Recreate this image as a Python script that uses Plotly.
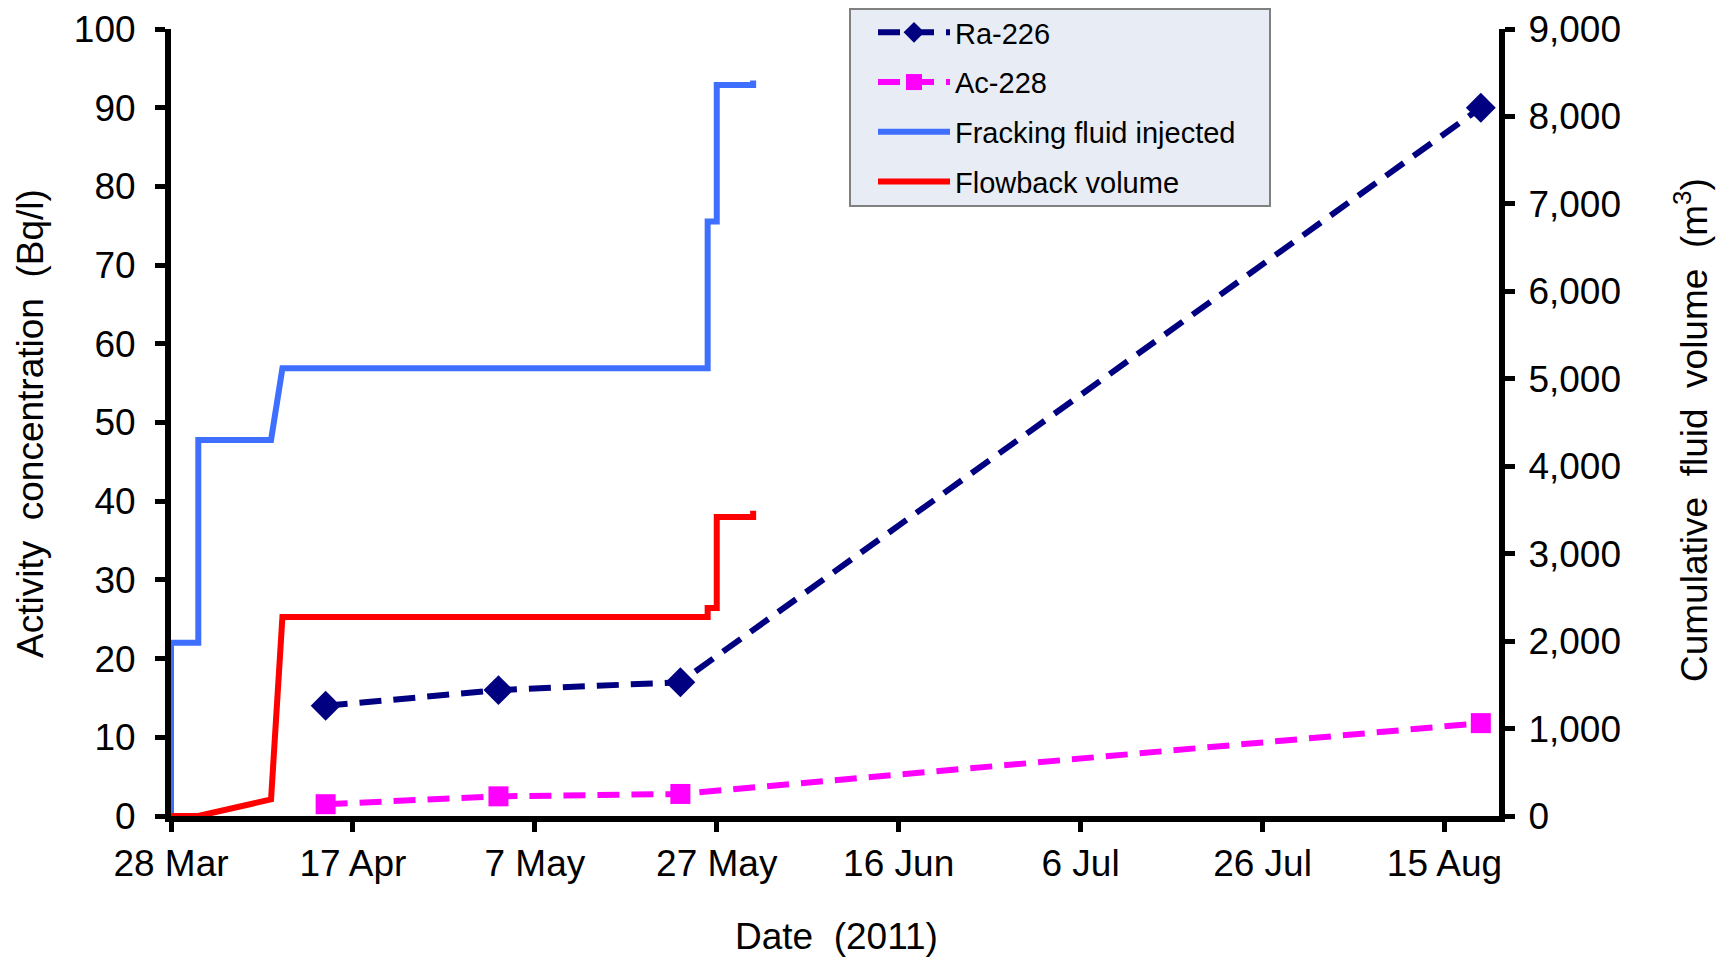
import plotly.graph_objects as go

# Radionuclide activity in flowback samples (Bq/l)
sample_dates = ["2011-04-14", "2011-05-03", "2011-05-23", "2011-08-19"]
ra226 = [14, 16, 17, 90]
ac228 = [1.5, 2.5, 2.8, 11.8]

# Cumulative fracking fluid injected (m3)
inj_dates = ["2011-03-28 00:00", "2011-03-28 00:00", "2011-03-31 00:00", "2011-03-31 00:00",
             "2011-04-08 00:00", "2011-04-09 06:00", "2011-05-26 00:00", "2011-05-26 00:00",
             "2011-05-27 00:00", "2011-05-27 00:00", "2011-05-31 00:00", "2011-05-31 00:00"]
inj_volume = [0, 1980, 1980, 4300, 4300, 5120, 5120, 6800, 6800, 8360, 8360, 8410]

# Cumulative flowback volume (m3)
fb_dates = ["2011-03-28 00:00", "2011-03-31 00:00", "2011-04-08 00:00", "2011-04-09 06:00",
            "2011-05-26 00:00", "2011-05-26 00:00", "2011-05-27 00:00", "2011-05-27 00:00",
            "2011-05-31 00:00", "2011-05-31 00:00"]
fb_volume = [0, 0, 190, 2275, 2275, 2380, 2380, 3420, 3420, 3490]

tick_dates = ["2011-03-28", "2011-04-17", "2011-05-07", "2011-05-27",
              "2011-06-16", "2011-07-06", "2011-07-26", "2011-08-15"]
tick_labels = ["28 Mar", "17 Apr", "7 May", "27 May", "16 Jun", "6 Jul", "26 Jul", "15 Aug"]

FONT = "Arial, Liberation Sans, sans-serif"
NB = "\u00a0"

# plot area in pixels (figure is 1717 x 957)
PL, PR, PT, PB = 171, 1499, 29, 816
W, H = 1717, 957


def px_x(px):
    return (px - PL) / (PR - PL)


def px_y(py):
    return (PB - py) / (PB - PT)


fig = go.Figure()

fig.add_trace(go.Scatter(
    x=sample_dates, y=ra226, name="Ra-226", mode="lines+markers", legendgroup="ra",
    line=dict(color="#000080", width=6, dash="22px,12px"),
    marker=dict(symbol="diamond", size=23, color="#000080"),
))
fig.add_trace(go.Scatter(
    x=sample_dates, y=ac228, name="Ac-228", mode="lines+markers", legendgroup="ac",
    line=dict(color="#FF00FF", width=6, dash="22px,12px"),
    marker=dict(symbol="square", size=20, color="#FF00FF"),
))
fig.add_trace(go.Scatter(
    x=inj_dates, y=inj_volume, name="Fracking fluid injected", mode="lines",
    legendgroup="inj", line=dict(color="#3F6FFF", width=6), yaxis="y2",
))
fig.add_trace(go.Scatter(
    x=fb_dates, y=fb_volume, name="Flowback volume", mode="lines",
    legendgroup="fb", line=dict(color="#FF0000", width=6), yaxis="y2",
))

axis_common = dict(
    showline=True, linecolor="black", linewidth=6,
    ticks="outside", ticklen=10, tickwidth=5, tickcolor="black",
    showgrid=False, zeroline=False,
    tickfont=dict(family=FONT, size=37, color="black"),
)

fig.update_layout(
    width=W, height=H,
    margin=dict(l=PL, r=W - PR, t=PT, b=H - PB, autoexpand=False),
    paper_bgcolor="white", plot_bgcolor="white",
    font=dict(family=FONT, color="black"),
    xaxis=dict(
        **axis_common,
        type="date",
        range=["2011-03-28", "2011-08-21"],
        tickvals=tick_dates, ticktext=tick_labels,
    ),
    yaxis=dict(
        **axis_common,
        range=[0, 100], tickvals=list(range(0, 101, 10)),
        ticklabelstandoff=12,
    ),
    yaxis2=dict(
        **axis_common,
        overlaying="y", side="right",
        range=[0, 9000], tickvals=list(range(0, 9001, 1000)),
        tickformat=",", ticklabelstandoff=6,
    ),
    legend=dict(
        x=px_x(873), y=px_y(7), xanchor="left", yanchor="top",
        bgcolor="rgba(0,0,0,0)", borderwidth=0,
        font=dict(family=FONT, size=29),
        tracegroupgap=9, itemwidth=72,
    ),
    showlegend=True,
)

# legend frame
fig.add_shape(
    type="rect", xref="paper", yref="paper", layer="below",
    x0=px_x(850), x1=px_x(1270), y0=px_y(206), y1=px_y(9),
    fillcolor="#E8ECF4", line=dict(color="#808080", width=2),
)

# axis titles
fig.add_annotation(
    text=f"Activity{NB}{NB}concentration{NB}{NB}(Bq/l)",
    xref="paper", yref="paper", x=px_x(31), y=px_y(424),
    xanchor="center", yanchor="middle",
    textangle=-90, showarrow=False,
    font=dict(family=FONT, size=37, color="black"),
)
fig.add_annotation(
    text=f"Cumulative{NB}{NB}fluid{NB}{NB}volume{NB}{NB}(m<sup>3</sup>)",
    xref="paper", yref="paper", x=px_x(1692), y=px_y(430),
    xanchor="center", yanchor="middle",
    textangle=-90, showarrow=False,
    font=dict(family=FONT, size=37, color="black"),
)
fig.add_annotation(
    text=f"Date{NB}{NB}(2011)",
    xref="paper", yref="paper", x=px_x(836), y=px_y(936),
    xanchor="center", yanchor="middle",
    showarrow=False,
    font=dict(family=FONT, size=37, color="black"),
)

fig.write_html("out.html")
